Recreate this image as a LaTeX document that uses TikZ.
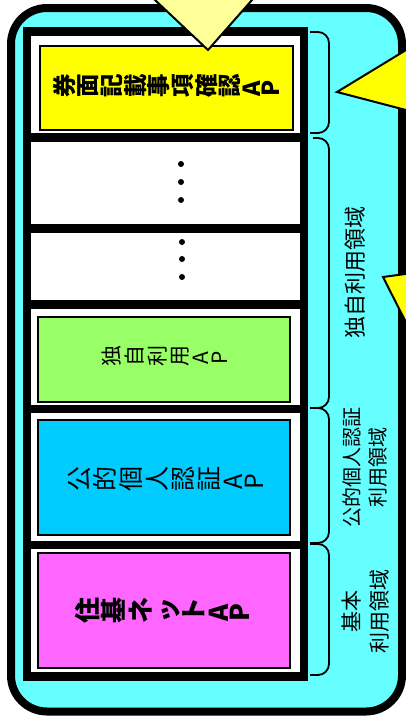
\documentclass[tikz,border=0pt]{standalone}
\usepackage{fontspec}
\usepackage{graphicx}
\newfontfamily\jp{Noto Sans CJK JP}
\definecolor{bgcyan}{HTML}{66FFFF}
\definecolor{boxyellow}{HTML}{FFFF00}
\definecolor{boxgreen}{HTML}{99FF66}
\definecolor{boxblue}{HTML}{00CCFF}
\definecolor{boxpink}{HTML}{FF66FF}
\definecolor{paleyellow}{HTML}{FFFF99}
\newlength\vgap
\newcommand{\vc}[1]{\hspace{0.5\vgap}\rotatebox{90}{\makebox[1em]{\rule[-0.12em]{0pt}{1em}#1}}\hspace{0.5\vgap}}
\newcommand{\vl}[1]{\hspace{0.5\vgap}\rotatebox{90}{\makebox[0.8em]{\rule[-0.02em]{0pt}{0.8em}#1}}\hspace{0.5\vgap}}
\tikzset{
  frame/.style={line width=8.5pt},
  sep/.style={line width=8.5pt},
  apbox/.style={draw=black, line width=1.8pt},
  brk/.style={line width=1.8pt, rounded corners=11pt},
  dotmark/.style={fill=black, draw=none},
  tri/.style={draw=black, line width=2pt, line join=miter},
  boxlabel/.style={inner sep=0pt},
  sidelabel/.style={inner sep=0pt, rotate=90, align=center},
}
\begin{document}
\begin{tikzpicture}[x=1pt, y=-1pt]
\useasboundingbox (0,0) rectangle (406,720);
% outer rounded panel
\draw[fill=bgcyan, line width=8pt, rounded corners=36pt] (11,8) rectangle (402,711.5);
% stack frame
\draw[frame, fill=white] (27,31.5) rectangle (304,676.5);
\foreach \yy in {137.5,228.5,304.5,409,545}
  \draw[sep] (27,\yy) -- (304,\yy);
% application boxes
\draw[apbox, fill=boxyellow] (40,46) rectangle (293,130);
\draw[apbox, fill=boxgreen] (38,317) rectangle (290,402);
\draw[apbox, fill=boxblue] (38,420) rectangle (290,535);
\draw[apbox, fill=boxpink] (38,553) rectangle (290,668);
% dots
\foreach \yy in {164,182,200} \fill[dotmark] (181,\yy) circle (3pt);
\foreach \yy in {242,259,277} \fill[dotmark] (182,\yy) circle (3pt);
% box labels
\node[boxlabel, font=\jp\bfseries\fontsize{23.5}{23.5}\selectfont] (lyellow) at (166,86)
  {\setlength\vgap{0.2pt}\vc{券}\vc{面}\vc{記}\vc{載}\vc{事}\vc{項}\vc{確}\vc{認}\vl{A}\vl{P}};
\node[boxlabel, font=\jp\fontsize{21}{21}\selectfont] (lgreen) at (164,356)
  {\setlength\vgap{1.7pt}\vc{独}\vc{自}\vc{利}\vc{用}\vl{A}\vl{P}};
\node[boxlabel, font=\jp\fontsize{25}{25}\selectfont] (lblue) at (165,479)
  {\setlength\vgap{1pt}\vc{公}\vc{的}\vc{個}\vc{人}\vc{認}\vc{証}\vl{A}\vl{P}};
\node[boxlabel, font=\jp\bfseries\fontsize{26}{26}\selectfont] (lpink) at (162,610)
  {\setlength\vgap{0.7pt}\vc{住}\vc{基}\vc{ネ}\vc{ッ}\vc{ト}\vl{A}\vl{P}};
% brackets
\draw[brk] (310,32) -- (329,32) -- (329,133) -- (310,133);
\draw[brk] (313,138) -- (329,138) -- (329,408) -- (310,408);
\draw[brk] (310,408) -- (329,408) -- (329,543) -- (310,543);
\draw[brk] (310,544) -- (329,544) -- (329,675) -- (310,675);
% side labels
\node[sidelabel, font=\jp\fontsize{22}{22}\selectfont] (sown) at (355,272) {独自利用領域};
\node[sidelabel, font=\jp\fontsize{20}{26}\selectfont] (spub) at (365,467) {公的個人認証\\利用領域};
\node[sidelabel, font=\jp\fontsize{21}{28}\selectfont] (sbase) at (366,611) {基本\\利用領域};
% triangles
\draw[tri, fill=paleyellow] (144.4,-10) -- (208,50) -- (260.8,-10);
\draw[tri, fill=boxyellow] (420,41.5) -- (337,92) -- (420,113.7);
\draw[tri, fill=boxyellow] (420,272) -- (383,277) -- (420,350);
\end{tikzpicture}
\end{document}
